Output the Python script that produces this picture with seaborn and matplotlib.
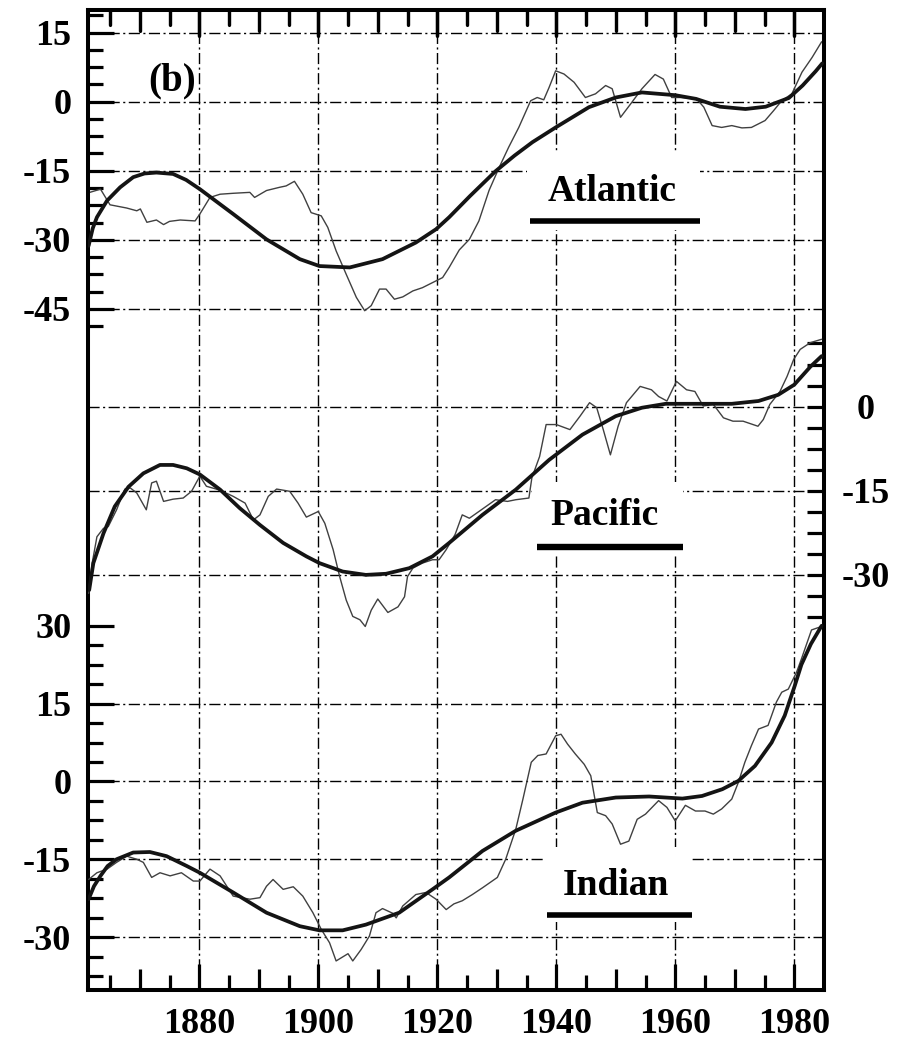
import numpy as np
import matplotlib
matplotlib.use("Agg")
import matplotlib.pyplot as plt
from matplotlib.patches import Rectangle
from matplotlib.lines import Line2D
from matplotlib.transforms import blended_transform_factory
from matplotlib.ticker import FixedLocator
import seaborn as sns

# ---------------- data ----------------
atl_thin_year = [1861.6, 1863.4, 1865.0, 1867.8, 1869.5, 1870.1, 1871.2, 1872.8, 1874.0, 1875.0,
                 1876.8, 1879.3, 1880.1, 1881.8, 1883.5, 1885.7, 1888.5, 1889.3, 1891.3, 1893.5,
                 1894.6, 1896.0, 1897.4, 1898.8, 1900.5, 1901.6, 1903.0, 1904.7, 1906.4, 1907.8,
                 1908.9, 1910.3, 1911.4, 1912.8, 1914.2, 1915.9, 1917.5, 1919.2, 1920.9, 1922.0,
                 1923.7, 1925.4, 1927.0, 1928.7, 1930.4, 1932.0, 1933.7, 1935.7, 1936.8, 1937.9,
                 1938.8, 1939.9, 1941.3, 1943.0, 1944.9, 1946.6, 1948.3, 1949.4, 1950.8, 1952.5,
                 1954.4, 1956.6, 1958.0, 1959.4, 1961.1, 1963.6, 1964.8, 1966.2, 1967.8, 1969.5,
                 1971.2, 1972.8, 1975.1, 1976.5, 1977.9, 1979.6, 1981.3, 1983.0, 1984.6]
atl_thin_val = [-19.7, -19.0, -22.4, -23.1, -23.7, -23.3, -26.2, -25.7, -26.7, -26.0,
                -25.7, -25.9, -24.4, -20.8, -20.1, -19.9, -19.7, -20.8, -19.3, -18.6,
                -18.3, -17.3, -20.1, -24.1, -24.8, -27.3, -32.4, -37.5, -42.5, -45.4,
                -44.3, -40.7, -40.7, -42.9, -42.4, -41.1, -40.4, -39.3, -38.2, -36.0,
                -32.2, -29.9, -25.9, -19.3, -14.3, -9.9, -5.6, 0.2, 0.9, 0.4,
                3.1, 6.7, 6.0, 4.2, 0.9, 1.7, 3.5, 2.8, -3.4, -0.5,
                2.8, 5.9, 4.9, 0.9, 0.9, 0.6, -1.2, -5.2, -5.6, -5.2,
                -5.7, -5.6, -4.1, -2.0, 0.2, 1.7, 6.4, 9.6, 13.0]

atl_fit_year = [1861.4, 1862.1, 1862.8, 1864.5, 1866.7, 1868.9, 1870.8, 1872.8, 1875.6, 1877.8,
                1880.1, 1885.7, 1891.3, 1896.9, 1900.2, 1905.3, 1910.8, 1916.4, 1919.8, 1922.0,
                1925.5, 1929.8, 1933.0, 1936.0, 1939.9, 1945.5, 1950.0, 1954.4, 1960.0, 1963.5,
                1967.5, 1971.8, 1975.2, 1979.1, 1981.4, 1983.6, 1984.7]
atl_fit_val = [-31.3, -27.5, -25.1, -21.5, -18.6, -16.4, -15.6, -15.4, -15.7, -17.0,
               -19.0, -24.4, -29.9, -34.2, -35.7, -36.0, -34.2, -30.6, -27.7, -25.1,
               -20.5, -15.1, -11.7, -8.8, -5.6, -1.2, 0.9, 2.0, 1.4, 0.6,
               -1.1, -1.6, -1.1, 0.8, 3.5, 6.6, 8.3]

pac_thin_year = [1861.4, 1862.0, 1862.8, 1863.9, 1864.7, 1866.1, 1867.5, 1868.4, 1869.5, 1871.1,
                 1872.0, 1872.8, 1874.0, 1875.6, 1877.3, 1878.7, 1880.1, 1881.2, 1883.5, 1885.7,
                 1887.7, 1889.1, 1890.2, 1891.6, 1893.0, 1895.2, 1896.6, 1898.0, 1900.0, 1901.1,
                 1902.5, 1903.6, 1904.7, 1905.8, 1907.0, 1907.9, 1908.9, 1910.0, 1911.7, 1913.4,
                 1914.5, 1915.0, 1915.9, 1917.5, 1919.2, 1920.3, 1921.5, 1923.0, 1924.2, 1925.4,
                 1927.0, 1929.8, 1931.8, 1933.2, 1935.4, 1935.9, 1937.2, 1938.3, 1940.0, 1942.3,
                 1944.0, 1945.6, 1946.8, 1947.9, 1949.1, 1950.4, 1951.8, 1954.1, 1956.0, 1957.2,
                 1958.6, 1960.2, 1961.9, 1963.3, 1964.7, 1966.4, 1968.1, 1969.7, 1971.4, 1973.9,
                 1974.8, 1975.9, 1977.6, 1978.8, 1979.9, 1981.0, 1982.7, 1984.6]
pac_thin_val = [-33.3, -27.9, -23.2, -21.7, -21.4, -18.4, -14.7, -14.5, -15.4, -18.4,
                -13.6, -13.3, -16.9, -16.5, -16.3, -15.1, -12.4, -14.2, -14.9, -16.0,
                -17.2, -20.2, -19.3, -16.0, -14.7, -15.1, -17.2, -19.7, -18.7, -20.8,
                -25.5, -30.3, -34.5, -37.4, -38.0, -39.2, -36.3, -34.3, -36.7, -35.7,
                -33.9, -30.3, -28.8, -27.9, -27.3, -27.3, -25.5, -22.8, -19.3, -19.9,
                -18.7, -16.6, -16.9, -16.6, -16.3, -12.7, -8.9, -3.2, -3.2, -4.1,
                -1.7, 0.7, -0.2, -4.1, -8.6, -3.5, 0.7, 3.6, 3.0, 1.8,
                1.0, 4.5, 3.0, 2.7, 0.1, 0.4, -2.0, -2.6, -2.6, -3.5,
                -2.3, 0.4, 2.7, 5.4, 8.4, 10.2, 11.4, 12.0]

pac_fit_year = [1861.5, 1862.2, 1863.9, 1865.8, 1868.1, 1870.6, 1873.4, 1875.6, 1877.9, 1880.1,
                1883.5, 1886.8, 1890.2, 1894.1, 1898.0, 1900.2, 1904.1, 1908.0, 1911.4, 1915.3,
                1919.2, 1922.0, 1927.6, 1933.2, 1938.8, 1944.4, 1950.0, 1954.4, 1958.4, 1963.9,
                1969.5, 1974.0, 1977.3, 1980.0, 1982.7, 1984.6]
pac_fit_val = [-32.7, -27.9, -22.6, -17.8, -14.3, -11.9, -10.4, -10.4, -11.0, -12.1,
               -14.8, -18.1, -21.1, -24.3, -26.7, -27.9, -29.4, -30.0, -29.8, -28.8,
               -26.7, -24.3, -19.3, -14.8, -9.5, -5.0, -1.7, -0.2, 0.5, 0.5,
               0.5, 1.0, 2.1, 3.9, 7.1, 9.0]

ind_thin_year = [1861.4, 1862.8, 1864.5, 1866.1, 1867.8, 1869.5, 1870.6, 1872.0, 1873.4, 1875.1,
                 1877.0, 1879.0, 1880.1, 1881.8, 1883.5, 1885.7, 1888.5, 1890.2, 1891.3, 1892.4,
                 1894.1, 1895.8, 1897.4, 1899.1, 1900.5, 1901.9, 1903.0, 1905.0, 1905.8, 1907.2,
                 1908.6, 1909.7, 1910.8, 1912.5, 1913.1, 1914.2, 1916.4, 1918.1, 1919.8, 1921.5,
                 1922.8, 1924.2, 1925.9, 1927.6, 1930.1, 1931.5, 1933.2, 1934.4, 1935.8, 1936.9,
                 1938.3, 1939.9, 1940.8, 1941.9, 1943.2, 1944.7, 1945.8, 1946.9, 1948.3, 1949.4,
                 1950.8, 1952.2, 1953.6, 1955.0, 1957.2, 1958.6, 1960.0, 1961.7, 1963.4, 1965.0,
                 1966.4, 1967.8, 1969.5, 1970.6, 1971.7, 1972.8, 1974.0, 1975.6, 1977.0, 1977.9,
                 1979.0, 1980.4, 1981.2, 1982.9, 1984.4]
ind_thin_val = [-18.9, -17.6, -16.9, -15.6, -14.4, -15.0, -15.6, -18.5, -17.6, -18.2,
                -17.6, -19.2, -19.2, -16.9, -18.2, -22.1, -22.7, -22.4, -20.2, -18.9,
                -20.8, -20.3, -22.1, -25.3, -28.5, -31.1, -34.6, -33.2, -34.6, -32.4,
                -29.8, -25.3, -24.5, -25.4, -26.3, -24.0, -21.8, -21.4, -22.7, -24.7,
                -23.6, -23.0, -21.8, -20.5, -18.5, -15.0, -9.2, -3.4, 3.7, 5.0,
                5.3, 8.8, 9.1, 7.2, 5.3, 3.3, 1.1, -6.0, -6.6, -8.2,
                -12.1, -11.5, -7.3, -6.3, -3.7, -5.0, -7.6, -4.6, -5.7, -5.7,
                -6.3, -5.3, -3.4, -0.2, 3.7, 6.9, 10.1, 10.8, 15.3, 17.2,
                17.8, 21.1, 23.6, 29.2, 29.8]

ind_fit_year = [1861.4, 1862.3, 1863.4, 1864.6, 1866.1, 1868.9, 1871.7, 1874.5, 1877.9, 1880.1,
                1885.7, 1891.3, 1896.9, 1900.2, 1904.1, 1908.0, 1913.6, 1919.2, 1922.0, 1927.6,
                1933.2, 1939.9, 1944.4, 1950.0, 1955.6, 1961.2, 1964.5, 1967.9, 1970.6, 1973.4,
                1976.2, 1978.4, 1980.1, 1981.2, 1982.8, 1984.6]
ind_fit_val = [-22.7, -20.2, -18.2, -16.3, -15.0, -13.7, -13.6, -14.4, -16.3, -17.6,
               -21.4, -25.3, -27.9, -28.7, -28.7, -27.6, -25.3, -20.8, -18.5, -13.4,
               -9.5, -6.0, -4.1, -3.1, -2.9, -3.3, -2.8, -1.5, 0.1, 3.0,
               7.5, 12.7, 18.5, 22.5, 26.5, 30.0]

x_ticks = [1880, 1900, 1920, 1940, 1960, 1980]
x_labels = ["1880", "1900", "1920", "1940", "1960", "1980"]
x_mid_ticks = [1870, 1890, 1910, 1930, 1950, 1970]
x_small_ticks = [1865, 1875, 1885, 1895, 1905, 1915, 1925, 1935, 1945, 1955, 1965, 1975]
atl_ticks = [15, 0, -15, -30, -45]
atl_labels = ["15", "0", "-15", "-30", "-45"]
pac_ticks = [0, -15, -30]
pac_labels = ["0", "-15", "-30"]
ind_ticks = [30, 15, 0, -15, -30]
ind_labels = ["30", "15", "0", "-15", "-30"]
atl_grid = [15, 0, -15, -30, -45]
pac_grid = [0, -15, -30]
ind_grid = [15, 0, -15, -30]
panel_label = "(b)"
names = ["Atlantic", "Pacific", "Indian"]

# ---------------- style ----------------
sns.set_style("white")
plt.rcParams["font.family"] = ["Liberation Serif", "DejaVu Serif"]
plt.rcParams["font.weight"] = "bold"

THIN = dict(color="#404040", linewidth=1.0)
THICK = dict(color="#141414", linewidth=2.7)
GRID = dict(color="black", linewidth=1.0, linestyle=(0, (8, 2.5, 1.5, 2.5)))
TW = 2.3
FS = 26
xlim = (1861.3, 1985.0)
atl_ylim = (-192.9, 19.9)

fig = plt.figure(figsize=(9.11, 10.42), dpi=100)
L, B, W, H = 88 / 911, 52 / 1042, 736 / 911, 980 / 1042
ax = fig.add_axes([L, B, W, H])
axP = ax.twinx()
axI = ax.twinx()
for a in (axP, axI):
    for s in a.spines.values():
        s.set_visible(False)
for s in ax.spines.values():
    s.set_linewidth(2.9)
    s.set_color("black")

# lines
sns.lineplot(x=atl_thin_year, y=atl_thin_val, ax=ax, sort=False, estimator=None, zorder=2, **THIN)
sns.lineplot(x=atl_fit_year, y=atl_fit_val, ax=ax, sort=False, estimator=None, zorder=3, **THICK)
sns.lineplot(x=pac_thin_year, y=pac_thin_val, ax=axP, sort=False, estimator=None, zorder=2, **THIN)
sns.lineplot(x=pac_fit_year, y=pac_fit_val, ax=axP, sort=False, estimator=None, zorder=3, **THICK)
sns.lineplot(x=ind_thin_year, y=ind_thin_val, ax=axI, sort=False, estimator=None, zorder=2, **THIN)
sns.lineplot(x=ind_fit_year, y=ind_fit_val, ax=axI, sort=False, estimator=None, zorder=3, **THICK)

# grids
for xv in x_ticks:
    ax.axvline(xv, zorder=0.5, **GRID)
for v in atl_grid:
    ax.axhline(v, zorder=0.5, **GRID)
for v in pac_grid:
    axP.axhline(v, zorder=0.5, **GRID)
for v in ind_grid:
    axI.axhline(v, zorder=0.5, **GRID)

# x tick labels on bottom
ax.set_xticks(x_ticks, labels=x_labels)
ax.tick_params(axis="x", which="major", direction="in", length=19, width=TW,
               top=True, bottom=True, labelsize=FS, pad=13, colors="black")

# top tick marks in Atlantic data units (px length / px-per-unit)
ppu = 980 / (atl_ylim[1] - atl_ylim[0])
top_style = dict(color="black", lw=TW, zorder=8)
for xs, px in ((x_ticks, 26.4), (x_mid_ticks, 20.8), (x_small_ticks, 15.3)):
    ax.vlines(xs, atl_ylim[1] - px / ppu, atl_ylim[1], **top_style)

# Atlantic y ticks (left)
ax.set_yticks(atl_ticks, labels=atl_labels)
ax.yaxis.set_minor_locator(FixedLocator(np.arange(-48.75, 18.8, 3.75)))
ax.tick_params(axis="y", which="major", direction="in", length=19, width=TW,
               left=True, right=False, labelsize=FS, pad=12, colors="black")
ax.tick_params(axis="y", which="minor", direction="in", length=11, width=TW,
               left=True, right=False, colors="black")

# Pacific y ticks (right)
axP.set_yticks(pac_ticks, labels=pac_labels)
axP.yaxis.set_minor_locator(FixedLocator(np.arange(-37.5, 11.3, 3.75)))
axP.tick_params(axis="y", which="both", direction="in", length=12, width=TW, colors="black",
                left=False, right=True, labelright=True, labelleft=False, labelsize=FS, pad=30)
for t in axP.get_yticklabels():
    t.set_horizontalalignment("center")

# Indian y ticks (left)
axI.yaxis.tick_left()
axI.set_yticks(ind_ticks, labels=ind_labels)
axI.yaxis.set_minor_locator(FixedLocator(np.arange(-37.5, 26.3, 3.75)))
axI.tick_params(axis="y", which="major", direction="in", length=19, width=TW, colors="black",
                left=True, right=False, labelleft=True, labelright=False, labelsize=FS, pad=12)
axI.tick_params(axis="y", which="minor", direction="in", length=11, width=TW, colors="black",
                left=True, right=False)

for a in (ax, axP, axI):
    a.set_xlabel("")
    a.set_ylabel("")

# labels with white boxes and underlines (axes-fraction layout)
boxes = [  # (box x0, y0, x1, y1, text x, text baseline y, line x0, line x1, line y, lw)
    (0.5965, 0.7755, 0.8315, 0.8541, 0.712, 0.8054, 0.6005, 0.8315, 0.7847, 4.0),
    (0.6033, 0.4439, 0.8084, 0.5184, 0.7011, 0.4745, 0.6101, 0.8084, 0.4520, 4.6),
    (0.6182, 0.0694, 0.8179, 0.1459, 0.7174, 0.0969, 0.6236, 0.8207, 0.0765, 4.0),
]
for name, (bx0, by0, bx1, by1, tx, ty, lx0, lx1, ly, lw) in zip(names, boxes):
    axI.add_patch(Rectangle((bx0, by0), bx1 - bx0, by1 - by0, transform=axI.transAxes,
                            facecolor="white", edgecolor="none", zorder=10))
    axI.text(tx, ty, name, transform=axI.transAxes, ha="center", va="baseline",
             fontsize=27, fontweight="bold", color="black", zorder=11)
    axI.plot([lx0, lx1], [ly, ly], transform=axI.transAxes, color="black", lw=lw,
             solid_capstyle="butt", zorder=11)

axI.text(0.1141, 0.9177, panel_label, transform=axI.transAxes, ha="center", va="baseline",
         fontsize=28, fontweight="bold", color="black", zorder=11)

ax.set_ylim(*atl_ylim)
axP.set_ylim(-104.0, 70.7)
axI.set_ylim(-40.2, 148.7)
for a in (ax, axP, axI):
    a.set_xlim(*xlim)

# bottom 10-yr and 5-yr tick marks on an overlay axes (0..1 in y)
axT = fig.add_axes([L, B, W, H], frameon=False)
axT.set_xticks([])
axT.set_yticks([])
for xs, px in ((x_mid_ticks, 20.8), (x_small_ticks, 15.3)):
    axT.vlines(xs, 0, px / 980, color="black", lw=TW, zorder=20)
axT.set_xlim(*xlim)
axT.set_ylim(0, 1)

# top tick marks again as figure-level artists (x in data, y in figure fraction)
top_y = B + H
ftr = blended_transform_factory(ax.transData, fig.transFigure)
for xs, px in ((x_ticks, 26.4), (x_mid_ticks, 20.8), (x_small_ticks, 15.3)):
    for xv in xs:
        fig.add_artist(Line2D([xv, xv], [top_y - px / 1042, top_y], transform=ftr,
                              color="black", lw=TW, zorder=30))

fig.savefig("out.png", dpi=100)
